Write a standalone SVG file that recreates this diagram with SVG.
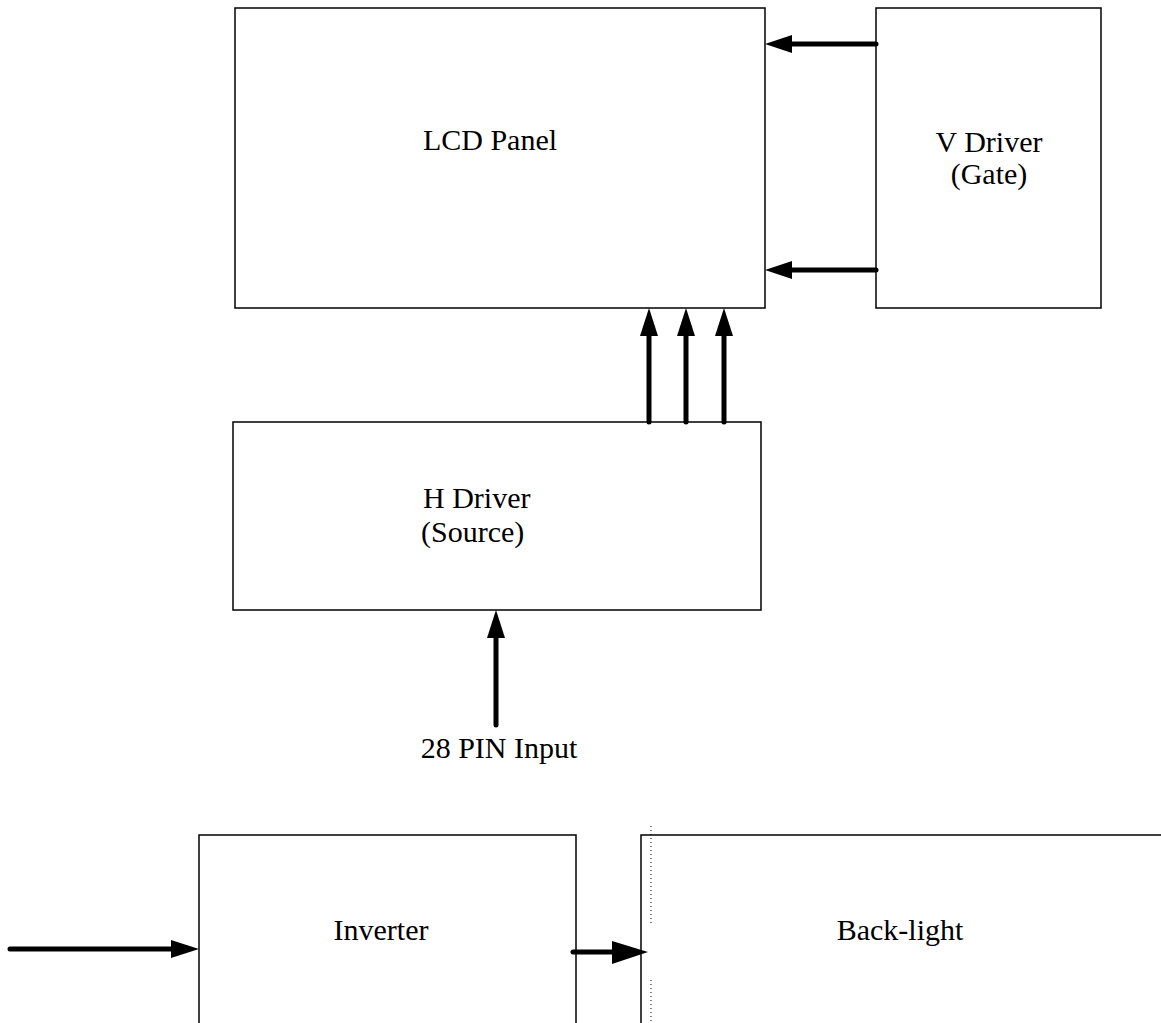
<svg xmlns="http://www.w3.org/2000/svg" width="1161" height="1023" viewBox="0 0 1161 1023">
<style>
.box{fill:#fff;stroke:#000;stroke-width:1.5}
.t{font-family:"Liberation Serif",serif;font-size:30px;fill:#000}
.ln{stroke:#000;stroke-width:5;stroke-linecap:round;fill:none}
.hd{fill:#000}
</style>
<rect width="1161" height="1023" fill="#fff"/>
<g id="lcd"><rect class="box" x="235" y="8" width="530" height="300"/><text class="t" x="490" y="150" text-anchor="middle">LCD Panel</text></g>
<g id="vdriver"><rect class="box" x="876" y="8" width="225" height="300"/><text class="t" x="989" y="152" text-anchor="middle">V Driver</text><text class="t" x="989" y="184" text-anchor="middle">(Gate)</text></g>
<g id="hdriver"><rect class="box" x="233" y="422" width="528" height="188"/><text class="t" x="423" y="508">H Driver</text><text class="t" x="421" y="542">(Source)</text></g>
<g id="input"><text class="t" x="499" y="758" text-anchor="middle">28 PIN Input</text></g>
<g id="inverter"><path class="box" d="M199,1023 V835 H576 V1023"/><text class="t" x="381" y="940" text-anchor="middle">Inverter</text></g>
<g id="backlight"><path class="box" d="M641,1023 V835 H1161"/><line x1="651" y1="826" x2="651" y2="925" stroke="#000" stroke-width="1" stroke-dasharray="1,3"/><line x1="651" y1="980" x2="651" y2="1023" stroke="#000" stroke-width="1" stroke-dasharray="1,3"/><text class="t" x="900" y="940" text-anchor="middle">Back-light</text></g>
<g id="connectors">
<line class="ln" x1="876" y1="44" x2="790" y2="44"/><polygon class="hd" points="765,44 792,35 792,53"/>
<line class="ln" x1="876" y1="270" x2="790" y2="270"/><polygon class="hd" points="765,270 792,261 792,279"/>
<line class="ln" x1="649" y1="422" x2="649" y2="333"/><polygon class="hd" points="649,308 640,336 658,336"/>
<line class="ln" x1="686" y1="422" x2="686" y2="333"/><polygon class="hd" points="686,308 677,336 695,336"/>
<line class="ln" x1="724" y1="422" x2="724" y2="333"/><polygon class="hd" points="724,308 715,336 733,336"/>
<line class="ln" x1="496" y1="725" x2="496" y2="635"/><polygon class="hd" points="496,610 487,638 505,638"/>
<line class="ln" x1="10" y1="949" x2="175" y2="949"/><polygon class="hd" points="199,949 171,940 171,958"/>
<line class="ln" x1="573" y1="952" x2="615" y2="952"/><polygon class="hd" points="648,952 612,941 612,964"/>
</g>
</svg>
